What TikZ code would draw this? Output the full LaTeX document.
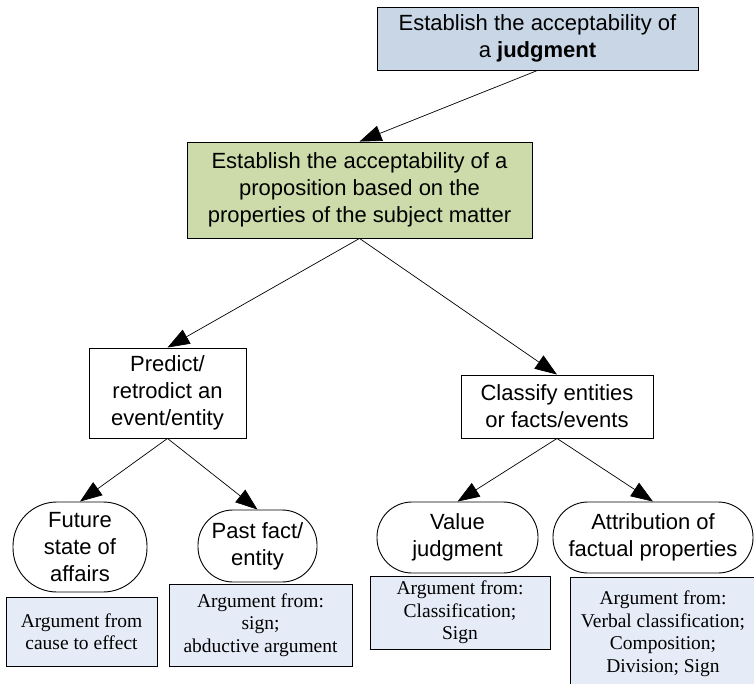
\documentclass[tikz,border=0pt]{standalone}
\usepackage{fontspec}
\setmainfont{Liberation Serif}
\setsansfont{Liberation Sans}
\usetikzlibrary{arrows.meta}

\definecolor{topblue}{HTML}{C8D6E6}
\definecolor{propgreen}{HTML}{CCDBA9}
\definecolor{argblue}{HTML}{E6ECF7}

\tikzset{
  goal/.style={draw, line width=0.9pt, align=center, inner sep=0pt,
    font=\sffamily\fontsize{22}{27}\selectfont},
  task/.style={goal, fill=white},
  case/.style={goal, fill=white, rounded corners=35pt},
  argbox/.style={draw, line width=0.9pt, fill=argblue, align=center, inner sep=0pt,
    font=\fontsize{19.5}{22.5}\selectfont},
  link/.style={->, line width=0.7pt}
}

\begin{document}
\begin{tikzpicture}[x=1pt, y=-1pt, >={Triangle[length=22pt,width=16pt]}]
	\useasboundingbox (0,0) rectangle (754,684);
	\clip (0,0) rectangle (754,684);

	\node[goal, fill=topblue, minimum width=321pt, minimum height=63pt] (judgment) at (537.5,38.5) {Establish the acceptability of\\a \textbf{judgment}};
	\node[goal, fill=propgreen, minimum width=345pt, minimum height=96pt] (proposition) at (359.5,190) {Establish the acceptability of a\\proposition based on the\\properties of the subject matter};

	\node[task, minimum width=157pt, minimum height=90pt] (predict) at (167.5,393) {Predict/\\retrodict an\\event/entity};
	\node[task, minimum width=192pt, minimum height=63pt] (classify) at (557,406.5) {Classify entities\\or facts/events};

	\node[case, rounded corners=44pt, minimum width=134pt, minimum height=90pt] (future) at (80,547) {Future\\state of\\affairs};
	\node[case, minimum width=119pt, minimum height=72pt] (past) at (257.5,546) {Past fact/\\entity};
	\node[case, minimum width=161pt, minimum height=71pt] (value) at (457.5,537.5) {Value\\judgment};
	\node[case, minimum width=200pt, minimum height=71pt] (attribution) at (653,537.5) {Attribution of\\factual properties};

	\node[argbox, minimum width=151pt, minimum height=69pt] (argfuture) at (81.5,631.5) {Argument from\\cause to effect};
	\node[argbox, minimum width=183pt, minimum height=82pt] (argpast) at (260.5,625) {Argument from:\\sign;\\abductive argument};
	\node[argbox, minimum width=180pt, minimum height=73pt] (argvalue) at (460,612.5) {Argument from:\\Classification;\\Sign};
	\node[argbox, minimum width=186pt, minimum height=113pt] (argattr) at (663,633.5) {Argument from:\\Verbal classification;\\Composition;\\Division; Sign};

	\draw[link] (judgment.south) -- (proposition.north);
	\draw[link] (proposition.south) -- (predict.north);
	\draw[link] (proposition.south) -- (classify.north);
	\draw[link] (predict.south) -- (future.north);
	\draw[link] (predict.south) -- (past.north);
	\draw[link] (classify.south) -- (value.north);
	\draw[link] (classify.south) -- (attribution.north);
\end{tikzpicture}
\end{document}
